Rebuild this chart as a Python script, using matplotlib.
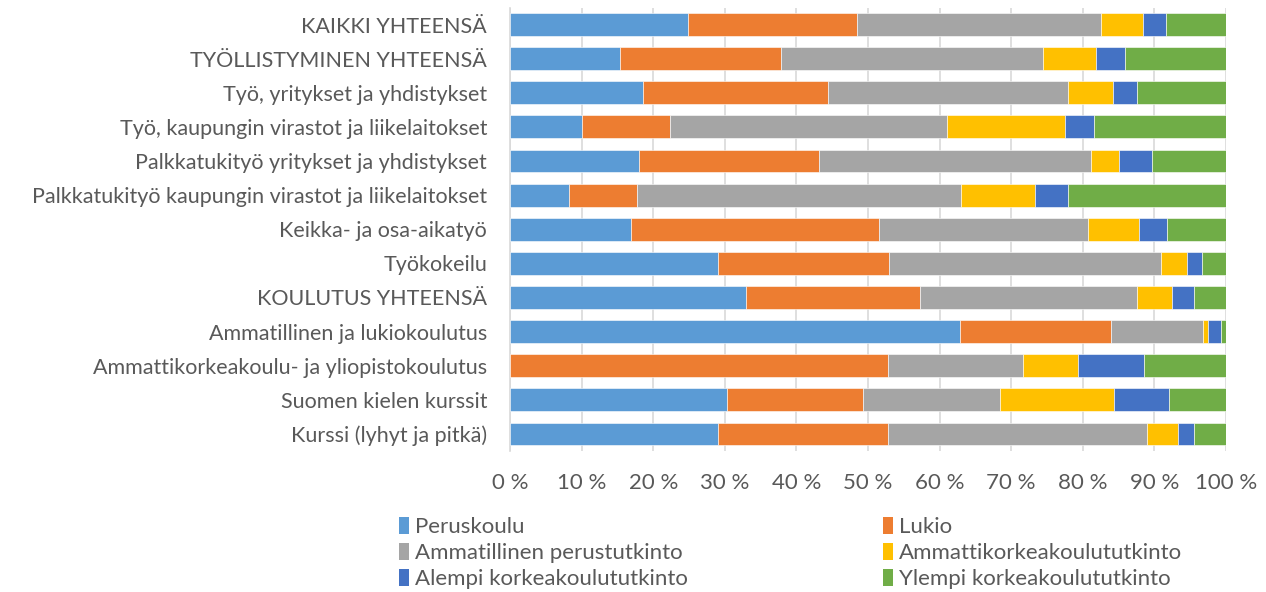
import matplotlib.pyplot as plt
import numpy as np
from matplotlib.patches import Patch

categories = [
    'KAIKKI YHTEENSÄ',
    'TYÖLLISTYMINEN YHTEENSÄ',
    'Työ, yritykset ja yhdistykset',
    'Työ, kaupungin virastot ja liikelaitokset',
    'Palkkatukityö yritykset ja yhdistykset',
    'Palkkatukityö kaupungin virastot ja liikelaitokset',
    'Keikka- ja osa-aikatyö',
    'Työkokeilu',
    'KOULUTUS YHTEENSÄ',
    'Ammatillinen ja lukiokoulutus',
    'Ammattikorkeakoulu- ja yliopistokoulutus',
    'Suomen kielen kurssit',
    'Kurssi (lyhyt ja pitkä)',
]

series_names = ['Peruskoulu', 'Lukio', 'Ammatillinen perustutkinto',
                'Ammattikorkeakoulututkinto', 'Alempi korkeakoulututkinto',
                'Ylempi korkeakoulututkinto']

peruskoulu = [24.9, 15.3, 18.6, 10.0, 18.0, 8.3, 16.9, 29.1, 32.9, 62.9, 0.0, 30.3, 29.1]
lukio = [23.5, 22.5, 25.8, 12.4, 25.2, 9.5, 34.7, 23.8, 24.3, 21.0, 52.8, 19.0, 23.7]
ammatillinen = [34.1, 36.6, 33.6, 38.7, 37.9, 45.2, 29.1, 38.0, 30.4, 12.9, 18.8, 19.2, 36.1]
amk = [5.9, 7.5, 6.2, 16.4, 4.0, 10.3, 7.2, 3.7, 4.9, 0.7, 7.7, 15.8, 4.4]
alempi = [3.2, 4.0, 3.4, 4.1, 4.6, 4.6, 3.8, 2.0, 3.0, 1.8, 9.3, 7.8, 2.2]
ylempi = [8.4, 14.1, 12.4, 18.4, 10.3, 22.1, 8.3, 3.4, 4.5, 0.7, 11.4, 7.9, 4.5]

colors = ['#5B9BD5', '#ED7D31', '#A5A5A5', '#FFC000', '#4472C4', '#70AD47']

plt.rcParams['font.family'] = ['Lato', 'DejaVu Sans']
text_color = '#595959'


def main():
    data = np.array([peruskoulu, lukio, ammatillinen, amk, alempi, ylempi])
    data = data / data.sum(axis=0) * 100  # normalise to 100 %

    fig = plt.figure(figsize=(12.66, 5.92), dpi=100)
    ax = fig.add_axes([510 / 1266, 1 - 451 / 592, 716 / 1266, 443.5 / 592])

    y = np.arange(len(categories))
    left = np.zeros(len(categories))
    for i, name in enumerate(series_names):
        ax.barh(y, data[i], left=left, height=0.67, color=colors[i],
                edgecolor='white', linewidth=0.4, label=name, zorder=3)
        left += data[i]

    ax.set_xlim(0, 100)
    ax.set_ylim(len(categories) - 0.5, -0.5)
    ax.set_xticks(np.arange(0, 101, 10))
    ax.set_xticklabels([f'{v} %' for v in range(0, 101, 10)])
    ax.set_yticks(y)
    ax.set_yticklabels(categories)
    ax.tick_params(axis='both', length=0, colors=text_color)
    ax.tick_params(axis='x', pad=16, labelsize=16)
    ax.tick_params(axis='y', pad=16.5, labelsize=15.5)
    ax.xaxis.grid(True, color='#d9d9d9', linewidth=1.2, zorder=0)
    ax.set_axisbelow(True)
    for s in ['top', 'right', 'bottom']:
        ax.spines[s].set_visible(False)
    ax.spines['left'].set_color('#d9d9d9')
    ax.spines['left'].set_linewidth(1.2)

    # legend row-major like the original: reorder for column-major fill
    order = [0, 2, 4, 1, 3, 5]
    handles = [Patch(facecolor=colors[i], label=series_names[i]) for i in order]
    fig.legend(handles=handles, ncol=2, loc='upper left',
               bbox_to_anchor=(388 / 1266, 1 - 506 / 592), frameon=False,
               fontsize=16, labelcolor=text_color, handlelength=0.45,
               handleheight=0.8, handletextpad=0.25, columnspacing=8.8,
               labelspacing=0.25, borderpad=0)

    fig.savefig('out.png', dpi=100)


if __name__ == '__main__':
    main()
